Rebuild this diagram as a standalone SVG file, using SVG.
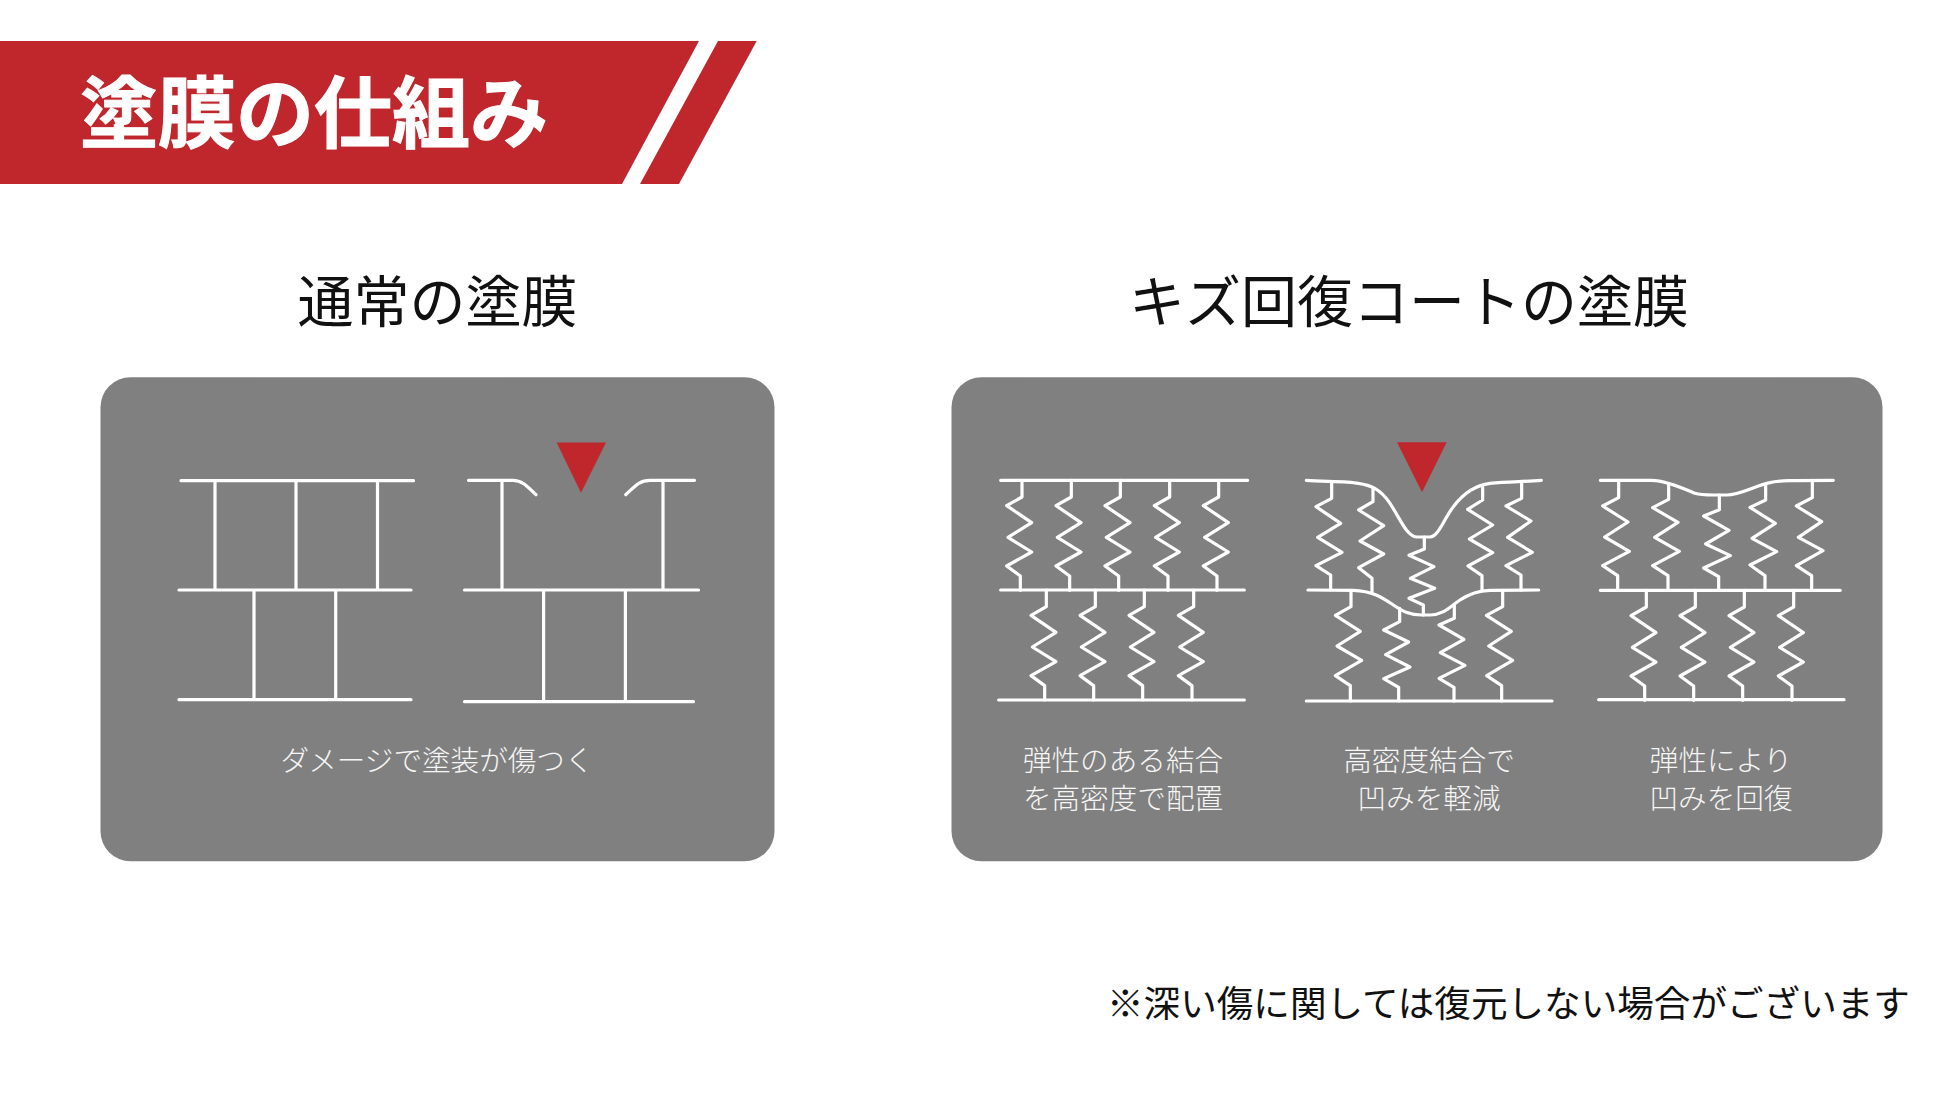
<svg xmlns="http://www.w3.org/2000/svg" xmlns:xlink="http://www.w3.org/1999/xlink" width="1950" height="1097" viewBox="0 0 1950 1097">
<style>
text{font-family:"Noto Sans CJK JP","Noto Sans CJK SC",sans-serif}
.panel{fill:#808080}
.red{fill:#bf272d}
.ln{fill:none;stroke:#fff;stroke-width:3.2;stroke-linecap:round;stroke-linejoin:round}
.z{fill:none;stroke:#fff;stroke-width:9.6;stroke-linecap:round;stroke-linejoin:round}
.h{font-size:56px;fill:#111;text-anchor:middle}
.c{font-size:28.6px;fill:#f6f6f6;text-anchor:middle;font-weight:300}
</style>
<defs>
<polyline id="spring" points="199,480 199,530 153,556 228,607 157,651 228,695 153,737 194,767 194,810"/>
</defs>
<rect width="1950" height="1097" fill="#fff"/>
<g id="banner">
<polygon class="red" points="0,41 699,41 622,184 0,184"/>
<polygon class="red" points="718,41 756.7,41 679,184 640,184"/>
<text x="80" y="142" font-size="78" font-weight="700" fill="#fff" stroke="#fff" stroke-width="1">塗膜の仕組み</text>
</g>
<g id="heading-normal"><text class="h" x="437.5" y="322">通常の塗膜</text></g>
<g id="heading-recovery"><text class="h" x="1409" y="322">キズ回復コートの塗膜</text></g>
<g id="panel-normal"><rect class="panel" x="100.5" y="377.3" width="674" height="484" rx="30"/></g>
<g id="panel-recovery"><rect class="panel" x="951.5" y="377.3" width="931" height="484" rx="30"/></g>
<g id="normal-intact" class="ln">
<path d="M181 480.7H413.5M179 590H411M179 699.7H411M215 480.7V590M296 480.7V590M377.5 480.7V590M254 590V699.7M335.7 590V699.7"/>
</g>
<g id="normal-damaged" class="ln">
<path d="M468.5 480.3H513C522 480.3 527 486 536 494.7M625.8 494.7C636 485 640 480.3 650 480.3H694.5M464.5 590H698.5M464.5 701.7H693.5M502 480.3V590M663 480.3V590M543.6 590V701.7M625.4 590V701.7"/>
<polygon points="556.6,442.5 606,442.5 581,492.7" fill="#bf272d" stroke="none"/>
</g>
<g id="recovery-intact" class="z" transform="translate(980 430) scale(.33333)">
<path d="M62 151H803M62 480H793M56 810H793"/>
<use href="#spring" x="-73" y="-329"/><use href="#spring" x="75" y="-329"/><use href="#spring" x="222" y="-329"/><use href="#spring" x="370" y="-329"/><use href="#spring" x="517" y="-329"/>
<use href="#spring"/><use href="#spring" x="147"/><use href="#spring" x="294"/><use href="#spring" x="442"/>
</g>
<g id="recovery-dented" class="z" transform="translate(1290 430) scale(.33333)">
<path d="M49 151C100 155 170 153 205 160C240 165 270 175 300 220C330 265 350 320 380 321H420C445 320 460 270 490 230C520 190 560 165 600 160C650 155 700 155 754 151"/>
<path d="M54 480L190 481C250 483 280 505 310 525C340 545 360 555 395 555H420C460 555 480 530 510 510C540 490 570 482 600 481L746 480"/>
<path d="M49 813H786"/>
<polyline points="125,155 125,205 78,230 152,280 83,322 156,367 78,407 122,435 122,480"/>
<polyline points="249,175 249,215 206,240 281,287 210,333 281,372 206,413 246,445 246,485"/>
<polyline points="403,321 403,357 357,376 432,410 361,445 434,475 357,505 400,525 400,555"/>
<polyline points="578,170 578,210 533,238 608,285 538,327 608,368 534,408 576,437 576,480"/>
<polyline points="695,157 695,205 648,228 723,273 653,322 727,367 648,407 693,435 693,480"/>
<polyline points="183,481 183,530 136,556 211,604 141,648 215,691 136,737 181,767 181,813"/>
<polyline points="329,535 329,575 281,600 356,636 287,674 360,711 281,746 326,772 326,813"/>
<polyline points="493,525 493,565 447,585 522,628 451,668 525,706 447,745 492,772 492,813"/>
<polyline points="638,481 638,530 589,556 664,604 596,648 668,691 590,737 635,767 635,813"/>
<polygon points="321,37 470,37 396,187" fill="#bf272d" stroke="none"/>
</g>
<g id="recovery-restored" class="z" transform="translate(1580 460) scale(.33333)">
<path d="M61 61H215C260 62 310 85 345 100C360 105 375 105 400 105H440C480 105 530 75 570 68C600 61 630 61 760 61"/>
<path d="M61 391H781M56 719H792"/>
<polyline points="116,61 116,113 68,138 144,186 74,231 148,274 68,317 113,347 113,391"/>
<polyline points="266,70 266,118 218,143 294,187 224,232 298,274 218,317 264,347 264,391"/>
<polyline points="418,105 418,149 371,168 447,211 377,252 451,287 371,324 416,350 416,391"/>
<polyline points="557,75 557,120 510,142 586,190 516,235 590,275 510,315 555,347 555,391"/>
<polyline points="697,61 697,113 649,138 725,185 655,232 729,272 649,317 695,347 695,391"/>
<use href="#spring" y="-89"/><use href="#spring" x="147" y="-89"/><use href="#spring" x="294" y="-89"/><use href="#spring" x="442" y="-89"/>
</g>
<g id="caption-normal"><text class="c" x="437" y="771">ダメージで塗装が傷つく</text></g>
<g id="caption-1"><text class="c" x="1123" y="771">弾性のある結合</text><text class="c" x="1123" y="808.5">を高密度で配置</text></g>
<g id="caption-2"><text class="c" x="1429" y="771">高密度結合で</text><text class="c" x="1429" y="808.5">凹みを軽減</text></g>
<g id="caption-3"><text class="c" x="1721" y="771">弾性により</text><text class="c" x="1721" y="808.5">凹みを回復</text></g>
<g id="footnote"><text x="1107" y="1017" font-size="36.6" fill="#111">※深い傷に関しては復元しない場合がございます</text></g>
</svg>
